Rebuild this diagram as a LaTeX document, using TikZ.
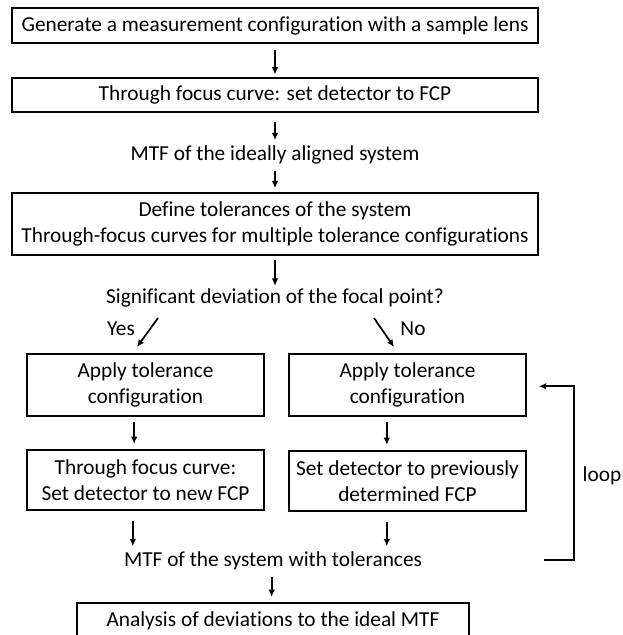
\documentclass[tikz,border=0pt]{standalone}
\usepackage{fontspec}
\setmainfont{Carlito}[Ligatures=NoCommon]
\usetikzlibrary{arrows.meta,calc,positioning}

\begin{document}
\begin{tikzpicture}[>={Latex[length=5.5pt,width=5pt]},x=0.75pt,y=-0.75pt,
    font=\fontsize{16}{20}\selectfont,
    stepbox/.style={draw,line width=1.2pt,inner sep=0pt,align=center,minimum height=26pt},
    wide/.style={stepbox,minimum width=394.5pt},
    half/.style={stepbox,minimum width=177.75pt,minimum height=46.5pt},
    plain/.style={inner sep=2pt,align=center},
    flow/.style={->,line width=1.3pt}]
  \useasboundingbox (0,0) rectangle (622,635);
  % main column
  \node[wide,minimum height=26.25pt] (gen) at (275,25.5)
    {Generate a measurement configuration with a sample lens};
  \node[wide,minimum height=25.5pt] (tfc) at (275,95)
    {Through focus curve: set detector to FCP};
  \node[plain] (ideal) at (275,155) {MTF of the ideally aligned system};
  \node[wide,minimum height=46.5pt] (tol) at (275,224)
    {Define tolerances of the system\\Through-focus curves for multiple tolerance configurations};
  \node[plain] (dev) at (275,298) {Significant deviation of the focal point?};
  % branches
  \node[plain] (yes) at (121,329) {Yes};
  \node[plain] (no) at (413,329) {No};
  \coordinate (yesS) at (158,318);
  \coordinate (yesE) at (137,347);
  \coordinate (noS) at (374,318);
  \coordinate (noE) at (394,347);
  \node[half] (applyL) at (145.5,385) {Apply tolerance\\configuration};
  \node[half] (applyR) at (407.5,385) {Apply tolerance\\configuration};
  \node[half,minimum height=45pt] (newL) at (145.5,480) {Through focus curve:\\Set detector to new FCP};
  \node[half,minimum height=45pt] (oldR) at (407.5,481) {Set detector to previously\\determined FCP};
  \node[plain] (sys) at (273,561) {MTF of the system with tolerances};
  \node[stepbox,minimum width=294pt,minimum height=27pt] (ana) at (273,621)
    {Analysis of deviations to the ideal MTF};
  \node[plain] (loop) at (602,476) {loop};
  \coordinate (loopS) at (544,560);
  % connectors
  \draw[flow,shorten <=5pt,shorten >=2pt] (gen) -- (tfc);
  \draw[flow,shorten <=7pt,shorten >=2pt] (tfc) -- (ideal);
  \draw[flow,shorten <=3pt,shorten >=3pt] (ideal) -- (tol);
  \draw[flow,shorten <=3pt,shorten >=0pt] (tol) -- (dev);
  \draw[flow] (yesS) -- (yesE);
  \draw[flow] (noS) -- (noE);
  \draw[flow,shorten <=4pt,shorten >=4pt] ([xshift=-8.5]applyL.south) -- ([xshift=-8.5]newL.north);
  \draw[flow,shorten <=4pt,shorten >=4pt] ([xshift=-15.5]applyR.south) -- ([xshift=-15.5]oldR.north);
  \draw[flow,shorten <=8pt,shorten >=2pt] ([xshift=-9.5]newL.south) -- ([xshift=-9.5]newL.south |- sys.north);
  \draw[flow,shorten <=8pt,shorten >=2pt] ([xshift=-15.5]oldR.south) -- ([xshift=-15.5]oldR.south |- sys.north);
  \draw[flow,shorten <=3pt,shorten >=4pt] ([xshift=-1]sys.south) -- ([xshift=-1]sys.south |- ana.north);
  \draw[flow,line width=1.6pt,shorten >=9pt] (loopS) -- ++(30,0) |- ([yshift=-1]applyR.east);
\end{tikzpicture}
\end{document}
